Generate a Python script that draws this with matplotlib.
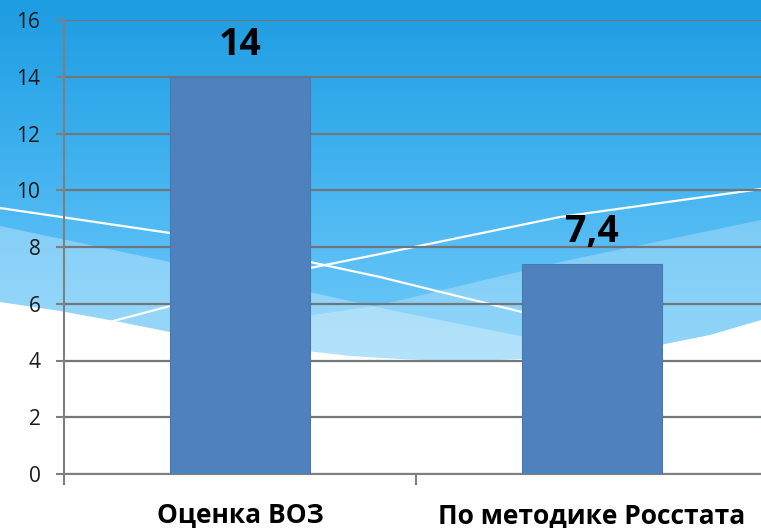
import numpy as np
import matplotlib.pyplot as plt
from matplotlib.colors import LinearSegmentedColormap

categories = ['Оценка ВОЗ', 'По методике Росстата']
values = [14, 7.4]
value_labels = ['14', '7,4']
y_ticks = [0, 2, 4, 6, 8, 10, 12, 14, 16]

W, H = 761, 528
plt.rcParams['font.family'] = ['Open Sans', 'DejaVu Sans']
fig = plt.figure(figsize=(W / 100, H / 100), dpi=100)

# slide background (decoration only)
bg = fig.add_axes([0, 0, 1, 1], zorder=0)
bg.set_xlim(0, W)
bg.set_ylim(H, 0)
bg.axis('off')
sky = LinearSegmentedColormap.from_list('sky', ['#1e9ce2', '#38adec', '#58bef5', '#74cbf8'])
grad = np.linspace(0, 1, 256).reshape(-1, 1)
bg.imshow(grad, cmap=sky, extent=(0, W, 380, 0), aspect='auto')
bg.fill_between([0, W], 379, H, color='#74cbf8')

xs = np.linspace(0, W, 300)
band_a = np.interp(xs, [0, 170, 300, 400, 550, 761], [226, 262, 290, 312, 342, 372])
band_b = np.interp(xs, [0, 200, 380, 560, 761], [345, 332, 305, 262, 220])
white_edge = np.interp(xs, [0, 60, 120, 170, 230, 290, 350, 400, 450, 500, 560, 610, 660, 710, 761],
                       [302, 311, 322, 332, 341, 349, 356, 359, 361, 360, 357, 352, 345, 335, 320])
bg.fill_between(xs, band_a, H, color='white', alpha=0.3, lw=0)
bg.fill_between(xs, band_b, H, color='white', alpha=0.25, lw=0)
bg.fill_between(xs, white_edge, H, color='white', lw=0)
bg.plot([0, 170, 310, 380, 522, 662], [208, 233, 262, 277, 312, 352], color='white', lw=1.6)
bg.plot([106, 170, 310, 380, 560, 761], [323, 306, 268, 254, 217, 189], color='white', lw=1.6)

# chart; the plot area runs a little past the right edge of the slide
ax = fig.add_axes([64 / W, 54 / H, 704 / W, 454 / H], zorder=1)
ax.patch.set_alpha(0)
x = np.arange(len(categories))
bars = ax.bar(x, values, width=0.4, color='#4f81bd', edgecolor='#4a78b0', linewidth=0.8, zorder=3)
for b, lab in zip(bars, value_labels):
    ax.annotate(lab, (b.get_x() + b.get_width() / 2, b.get_height()), xytext=(0, 16),
                textcoords='offset points', ha='center', va='baseline',
                fontsize=27, fontweight='bold', color='black')

ax.set_ylim(0, 16)
ax.set_xlim(-0.5, 1.5)
ax.set_yticks(y_ticks)
ax.yaxis.grid(True, color='#6f767c', linewidth=1.6)
ax.set_axisbelow(True)
for s in ['top', 'right']:
    ax.spines[s].set_visible(False)
for s in ['left', 'bottom']:
    ax.spines[s].set_color('#7f7f7f')
    ax.spines[s].set_linewidth(1.5)

ax.tick_params(axis='y', length=6, width=1.5, color='#7f7f7f', pad=11,
               labelsize=15, labelcolor='#1a1a1a')
ax.set_xticks(x)
ax.set_xticklabels(categories, fontsize=19, fontweight='bold', color='black')
ax.set_xticks([-0.5, 0.5, 1.5], minor=True)
ax.tick_params(axis='x', which='major', length=0, pad=20)
ax.tick_params(axis='x', which='minor', length=8, width=1.5, color='#7f7f7f')

fig.savefig('out.png', dpi=100)
